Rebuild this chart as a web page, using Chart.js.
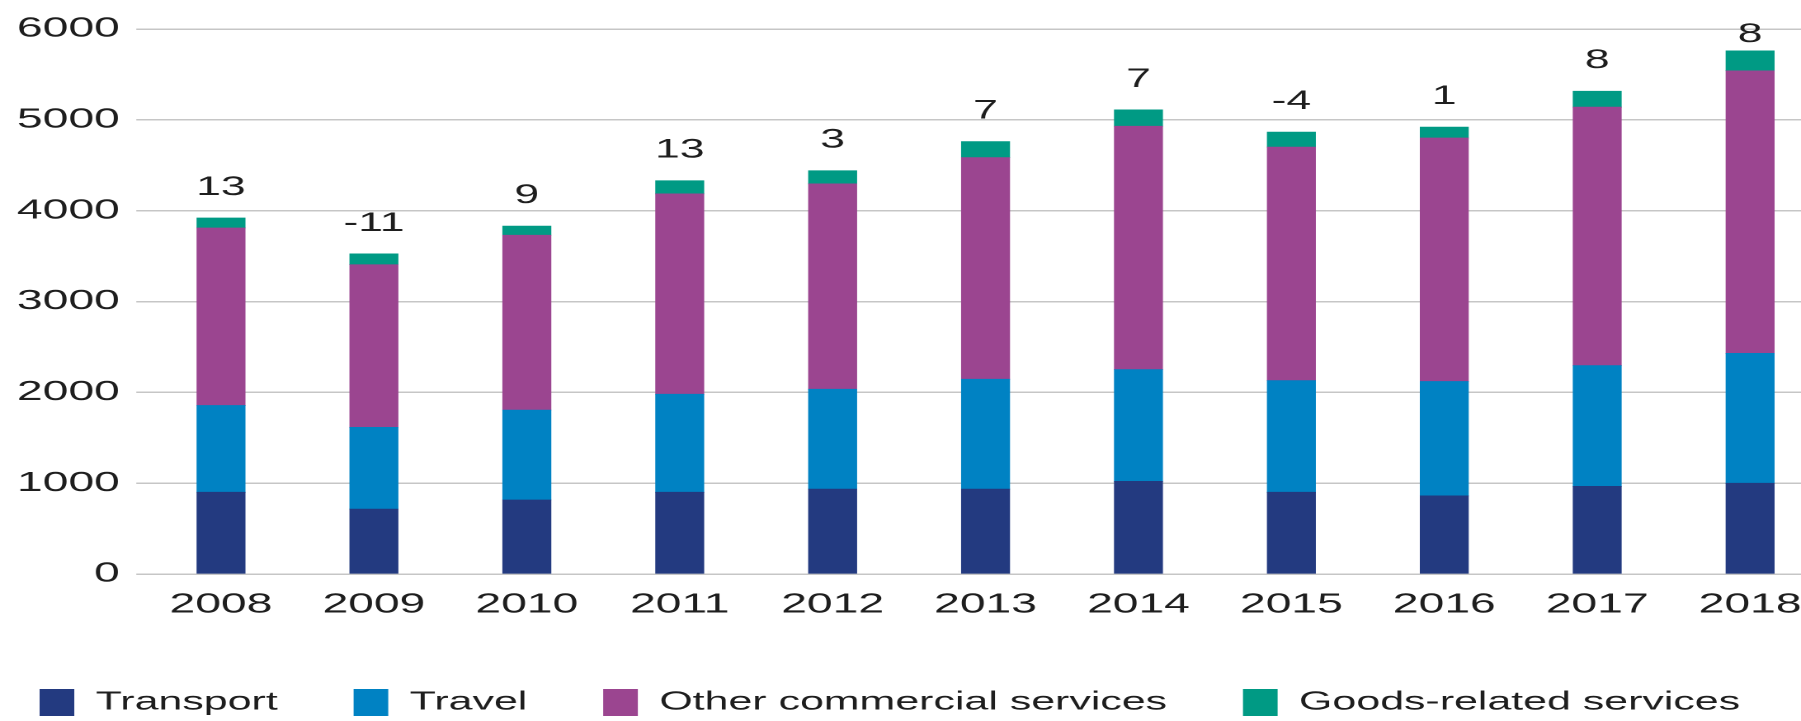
<!DOCTYPE html>
<html>
<head>
<meta charset="utf-8">
<script src="https://cdn.jsdelivr.net/npm/chart.js@4/dist/chart.umd.min.js"></script>
<style>
  html, body { margin: 0; padding: 0; background: #fff; overflow: hidden; }
  /* the source picture is stretched sideways, so draw narrow and widen it */
  #wrap { width: 1108px; height: 721px; transform: scaleX(1.65); transform-origin: 0 0; }
</style>
</head>
<body>
<div id="wrap"><canvas id="chart"></canvas></div>
<script>
const years = ['2008', '2009', '2010', '2011', '2012', '2013', '2014', '2015', '2016', '2017', '2018'];
const transport = [900, 715, 815, 900, 935, 935, 1020, 900, 860, 965, 1000];
const travel = [955, 900, 990, 1080, 1100, 1210, 1230, 1230, 1260, 1330, 1430];
const otherServices = [1955, 1790, 1925, 2205, 2260, 2440, 2680, 2570, 2680, 2845, 3110];
const goodsRelated = [110, 120, 100, 145, 145, 175, 180, 165, 120, 175, 220];
const growth = [13, -11, 9, 13, 3, 7, 7, -4, 1, 8, 8];
const yTicks = [0, 1000, 2000, 3000, 4000, 5000, 6000];

const textColor = '#1e1e1e';

// growth figures above each stack
const growthLabels = {
  id: 'growthLabels',
  afterDatasetsDraw(chart) {
    const ctx = chart.ctx;
    const top = chart.getDatasetMeta(chart.data.datasets.length - 1);
    ctx.save();
    ctx.font = '27px "Liberation Sans", Arial, sans-serif';
    ctx.fillStyle = textColor;
    ctx.textAlign = 'center';
    ctx.textBaseline = 'alphabetic';
    top.data.forEach((bar, i) => {
      ctx.fillText(String(growth[i]), bar.x, Math.max(bar.y - 23, 42));
    });
    ctx.restore();
  }
};

function bar(label, data, color) {
  return { label: label, data: data, backgroundColor: color, barThickness: 29, borderWidth: 0 };
}

new Chart(document.getElementById('chart'), {
  type: 'bar',
  data: {
    labels: years,
    datasets: [
      bar('Transport', transport, '#233a80'),
      bar('Travel', travel, '#0082c3'),
      bar('Other commercial services', otherServices, '#9b4590'),
      bar('Goods-related services', goodsRelated, '#009a84')
    ]
  },
  options: {
    responsive: true,
    maintainAspectRatio: false,
    animation: false,
    devicePixelRatio: 2,
    layout: { padding: { top: 29, left: -22, right: 1, bottom: -5 } },
    plugins: {
      tooltip: { enabled: false },
      legend: {
        position: 'bottom',
        align: 'start',
        labels: {
          boxWidth: 21,
          boxHeight: 27,
          padding: 46,
          color: textColor,
          font: { family: '"Liberation Sans", Arial, sans-serif', size: 26 }
        }
      }
    },
    scales: {
      x: {
        stacked: true,
        grid: { display: false, drawTicks: false },
        border: { display: false },
        ticks: {
          color: textColor,
          padding: 14,
          maxRotation: 0,
          font: { family: '"Liberation Sans", Arial, sans-serif', size: 28 }
        },
        afterFit(scale) { scale.height = 69; }
      },
      y: {
        stacked: true,
        min: 0,
        max: 6000,
        afterBuildTicks(scale) { scale.ticks = yTicks.map(v => ({ value: v })); },
        grid: { color: '#c6c6c6', lineWidth: 1.5, drawTicks: true, tickLength: 5 },
        border: { display: false },
        ticks: {
          color: textColor,
          padding: 10,
          callback: v => String(v),
          font: { family: '"Liberation Sans", Arial, sans-serif', size: 28 }
        },
        afterFit(scale) { scale.width = 109.6; }
      }
    }
  },
  plugins: [growthLabels]
});
</script>
</body>
</html>
